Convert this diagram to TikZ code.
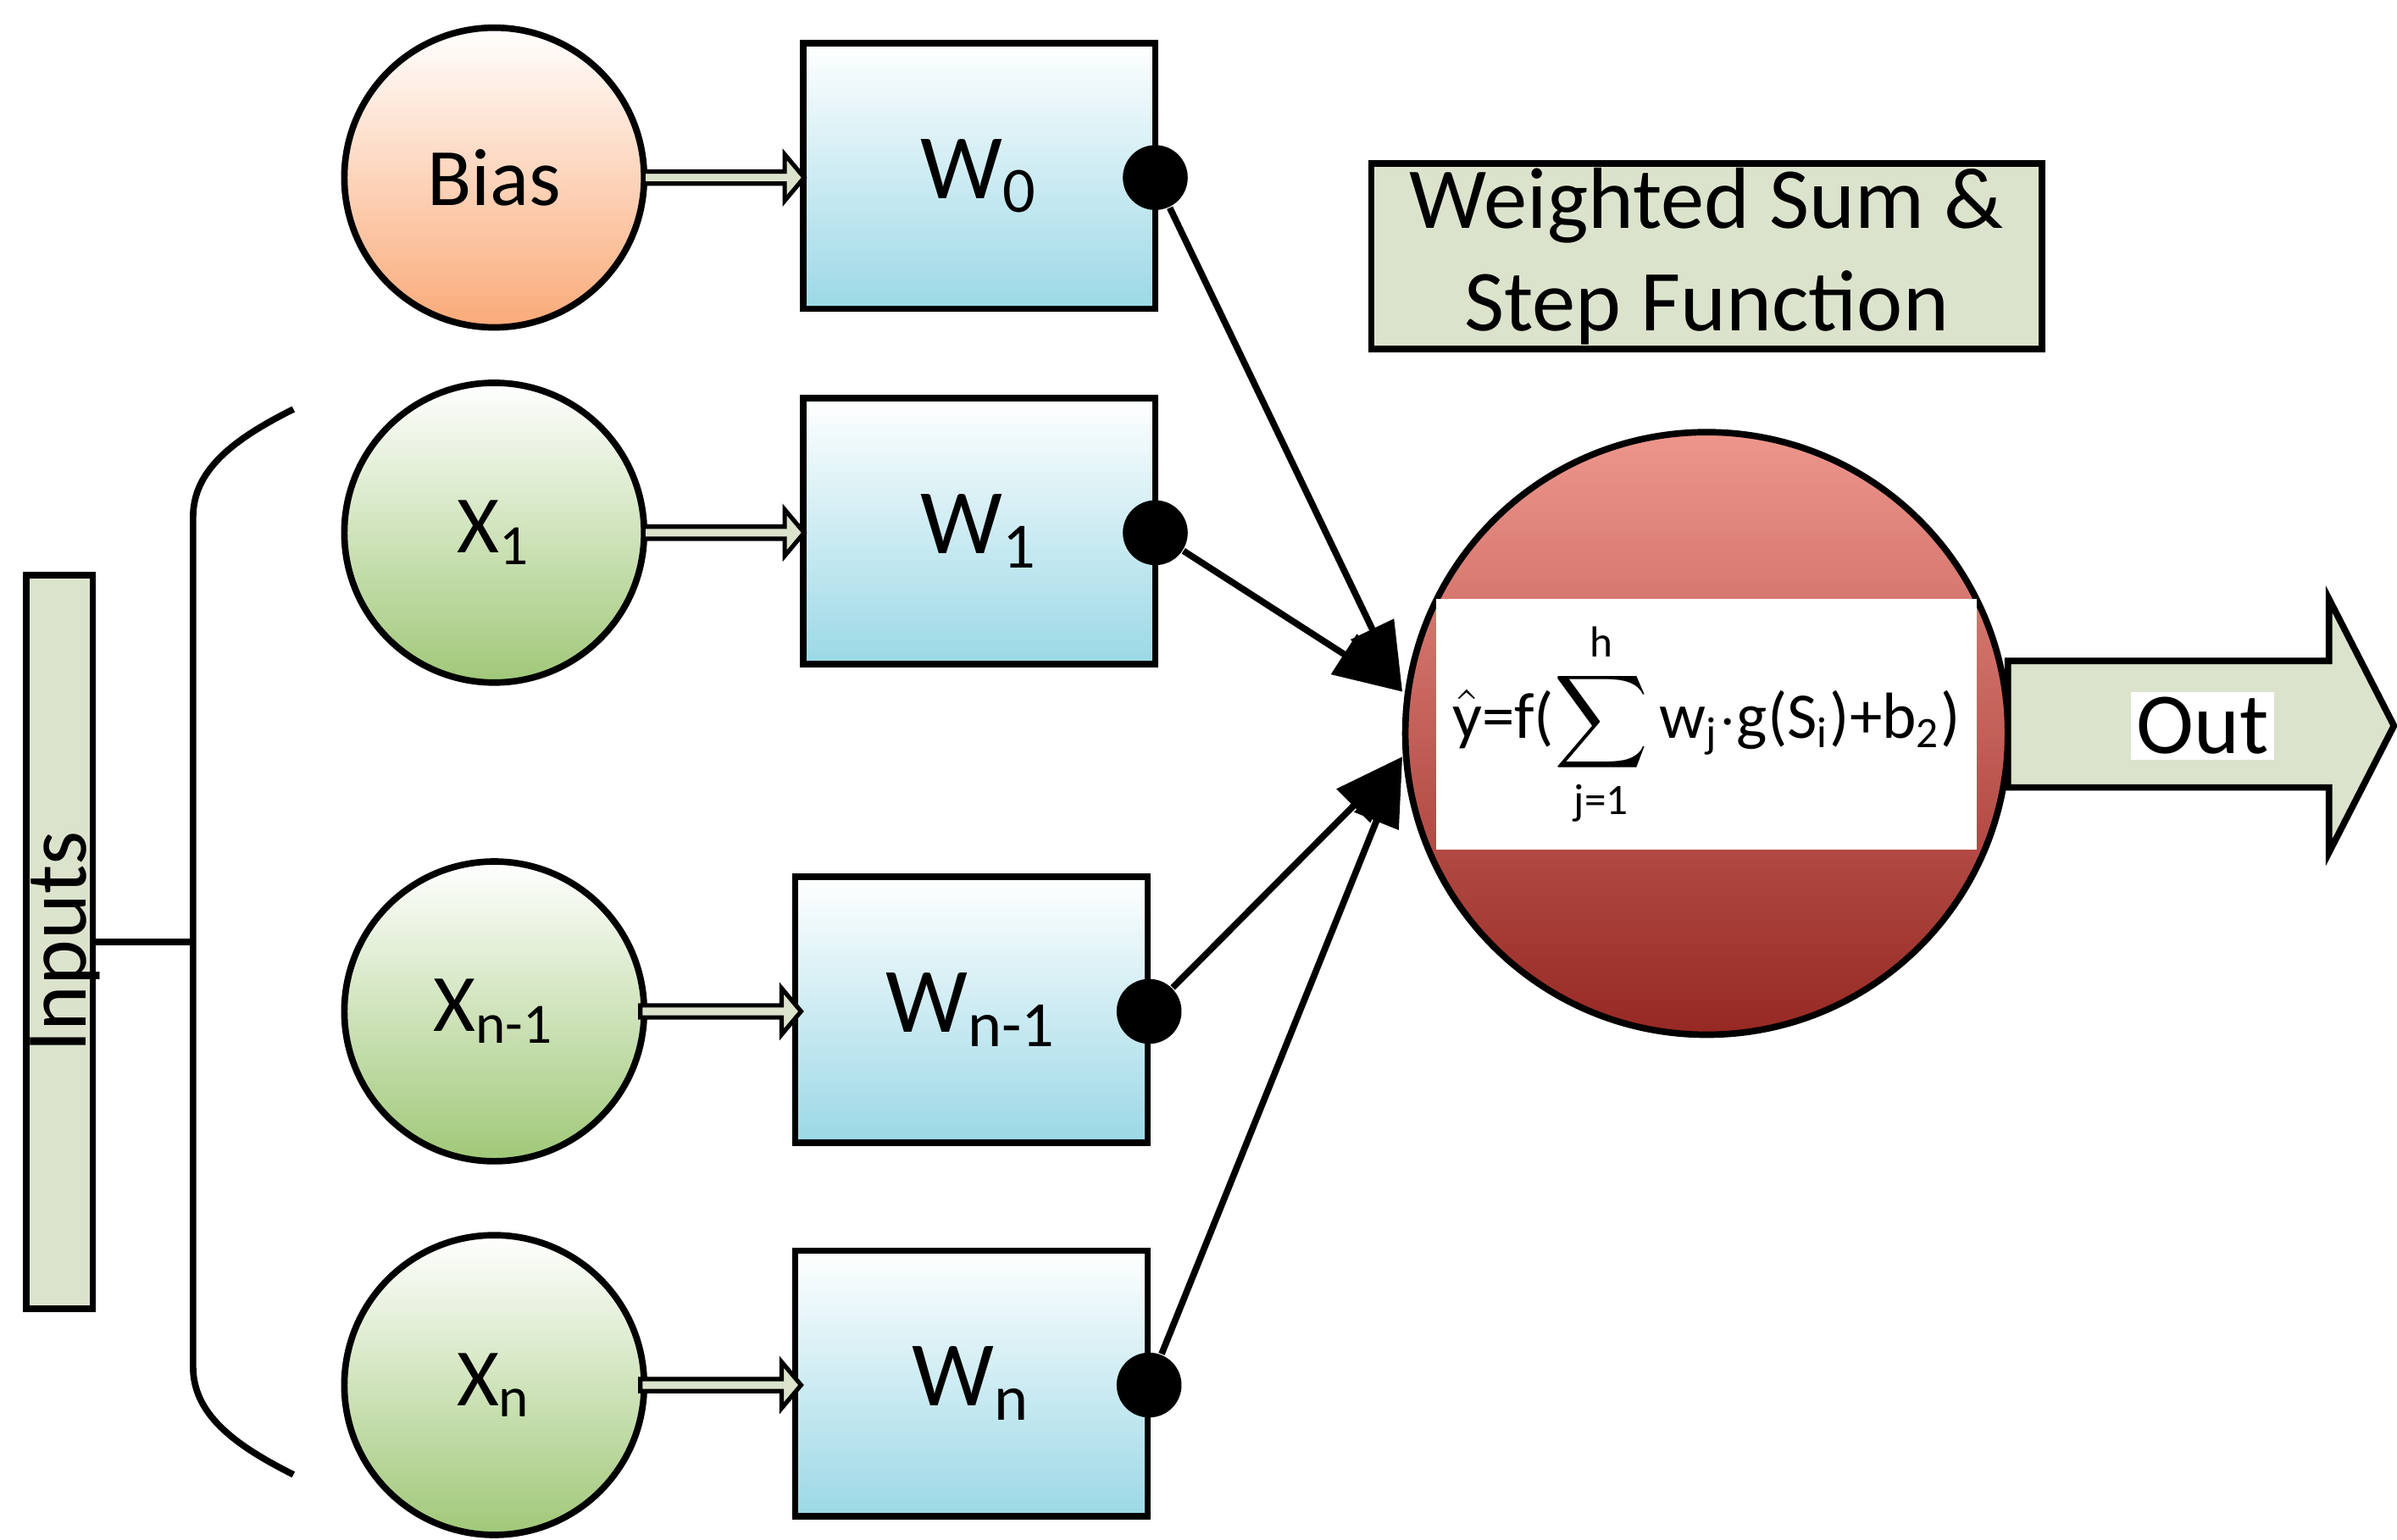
\documentclass[tikz,border=0pt]{standalone}
\usepackage{amsmath}
\usepackage{fontspec}
\setmainfont{Carlito}
\usetikzlibrary{shapes.arrows,arrows.meta}
\definecolor{wb}{RGB}{155,216,230}
\definecolor{gb}{RGB}{160,200,120}
\definecolor{ob}{RGB}{250,170,120}
\definecolor{lab}{RGB}{220,227,204}
\begin{document}
\begin{tikzpicture}[x=0.01cm,y=-0.01cm,
  inp/.style={circle,draw,line width=1.2pt,minimum size=1.94cm,inner sep=0pt,font=\fontsize{15}{17}\selectfont},
  wbox/.style={draw,line width=1.2pt,minimum width=2.28cm,minimum height=1.72cm,top color=white,bottom color=wb,inner sep=0pt,font=\fontsize{17}{19}\selectfont},
  feed/.style={single arrow,draw,line width=0.8pt,fill=lab,minimum height=1.04cm,minimum width=0.3cm,single arrow head extend=0.04cm,inner sep=0pt,single arrow tip angle=100},
  dot/.style={circle,fill=black,minimum size=0.42cm,inner sep=0pt},
  conn/.style={line width=1.2pt,-{Triangle[length=0.45cm,width=0.3cm]}},
  lab/.style={draw,line width=1.2pt,fill=lab}]
\useasboundingbox (0,0) rectangle (1552,997);
% input circles
\node[inp,top color=white,bottom color=ob] (b) at (320,115) {Bias};
\node[inp,top color=white,bottom color=gb] (x1) at (320,345) {X\textsubscript{1}};
\node[inp,top color=white,bottom color=gb] (xn1) at (320,655) {X\textsubscript{n-1}};
\node[inp,top color=white,bottom color=gb] (xn) at (320,897) {X\textsubscript{n}};
% weight boxes
\node[wbox] (w0) at (634,114) {W\textsubscript{0}};
\node[wbox] (w1) at (634,344) {W\textsubscript{1}};
\node[wbox] (wn1) at (629,654) {W\textsubscript{n-1}};
\node[wbox] (wn) at (629,896) {W\textsubscript{n}};
% feed arrows
\node[feed] at (467,115) {};
\node[feed] at (467,345) {};
\node[feed] at (465,655) {};
\node[feed] at (465,897) {};
% dots
\node[dot] (d0) at (748,115) {};
\node[dot] (d1) at (748,345) {};
\node[dot] (d2) at (744,655) {};
\node[dot] (d3) at (744,897) {};
% neuron
\node[circle,draw,line width=1.2pt,minimum size=3.9cm,top color={rgb,255:red,238;green,150;blue,140},bottom color={rgb,255:red,150;green,40;blue,35}] (n) at (1105,475) {};
\node[fill=white,minimum width=3.5cm,minimum height=1.62cm,inner sep=0pt,font=\fontsize{12}{14}\selectfont] (f) at (1105,469)
  {$\hat{\text{y}}$=f($\displaystyle\sum_{\text{j=1}}^{\text{h}}$\,w\textsubscript{j}$\cdot$g(S\textsubscript{i})+b\textsubscript{2})};
\coordinate (t1) at (908,448);
\coordinate (t2) at (908,490);
\draw[conn] (d0) -- (t1);
\draw[conn] (d1) -- (t1);
\draw[conn] (d2) -- (t2);
\draw[conn] (d3) -- (t2);
% out arrow
\draw[lab] (1300,428) -- (1508,428) -- (1508,388) -- (1550,470) -- (1508,552) -- (1508,510) -- (1300,510) -- cycle;
\node[fill=white,inner sep=1pt,font=\fontsize{16}{18}\selectfont] (out) at (1426,470) {Out};
% title
\node[lab,minimum width=4.34cm,minimum height=1.2cm,align=center,font=\fontsize{16}{19}\selectfont,inner sep=0pt] (ttl) at (1105,166) {Weighted Sum \&\\Step Function};
% inputs
\node[lab,minimum width=0.43cm,minimum height=4.75cm,inner sep=0pt] (inb) at (38.5,610) {};
\node[rotate=90,font=\fontsize{16}{18}\selectfont] at (42,610) {Inputs};
\draw[line width=1.2pt] (190,265) .. controls (150,285) and (125,305) .. (125,335) -- (125,885) .. controls (125,915) and (150,935) .. (190,955);
\draw[line width=1.2pt] (inb.east |- 0,610) -- (125,610);
\end{tikzpicture}
\end{document}
